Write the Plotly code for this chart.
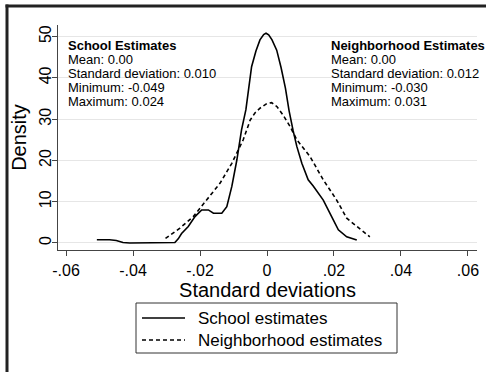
import plotly.graph_objects as go

# ---- data ----
school_x = [-0.0508, -0.047, -0.045, -0.043, -0.041, -0.035, -0.0285, -0.0275, -0.0265,
            -0.0255, -0.0235, -0.0215, -0.0195, -0.0175, -0.016, -0.0135, -0.012, -0.0105,
            -0.009, -0.0076, -0.0063, -0.0046, -0.0033, -0.0021, -0.001, -0.0003, 0.0005,
            0.0015, 0.0029, 0.0042, 0.0055, 0.0066, 0.0078, 0.0089, 0.0104, 0.0123, 0.0138,
            0.0168, 0.0193, 0.0213, 0.0238, 0.0268]
school_y = [0.8, 0.8, 0.6, 0.1, 0.0, 0.0, 0.0, 0.1, 1.0,
            2.3, 4.0, 6.4, 8.0, 8.0, 7.2, 7.2, 8.8, 13.7,
            20.1, 27.4, 32.3, 42.7, 46.5, 49.2, 50.5, 50.8, 50.4,
            49.2, 46.7, 42.5, 37.5, 32.0, 27.2, 23.4, 19.3, 15.3, 13.8,
            10.4, 6.4, 3.2, 1.5, 0.7]

neigh_x = [-0.0303, -0.026, -0.022, -0.018, -0.014, -0.0105, -0.0071, -0.005, -0.0036,
           -0.002, 0.0, 0.0014, 0.003, 0.0048, 0.0069, 0.0089, 0.0128, 0.0168, 0.0208,
           0.0238, 0.0268, 0.0307]
neigh_y = [1.1, 3.6, 6.4, 10.4, 14.5, 19.3, 25.0, 29.8, 31.5,
           32.7, 33.8, 34.0, 33.0, 31.0, 28.2, 25.0, 21.0, 15.3, 10.4,
           6.0, 4.0, 1.5]

x_ticks = [-0.06, -0.04, -0.02, 0, 0.02, 0.04, 0.06]
x_tick_labels = ["-.06", "-.04", "-.02", "0", ".02", ".04", ".06"]
y_ticks = [0, 10, 20, 30, 40, 50]

series_names = ["School estimates", "Neighborhood estimates"]
series_dash = ["solid", "4px,3px"]

school_stats = ["<b>School Estimates</b>", "Mean: 0.00", "Standard deviation: 0.010",
                "Minimum: -0.049", "Maximum: 0.024"]
neigh_stats = ["<b>Neighborhood Estimates</b>", "Mean: 0.00", "Standard deviation: 0.012",
               "Minimum: -0.030", "Maximum: 0.031"]

# ---- layout geometry (pixels) ----
W, H = 486, 372
L, R, T, B = 58, 9, 25, 122
PW, PH = W - L - R, H - T - B


def px_x(px):
    return (px - L) / PW


def px_y(py):
    return (H - B - py) / PH


FONT = "Liberation Sans, Arial, sans-serif"

fig = go.Figure()
fig.add_trace(go.Scatter(x=school_x, y=school_y, mode="lines", name=series_names[0],
                         line=dict(color="black", width=1.6, dash=series_dash[0])))
fig.add_trace(go.Scatter(x=neigh_x, y=neigh_y, mode="lines", name=series_names[1],
                         line=dict(color="black", width=1.6, dash=series_dash[1])))

annotations = []
rows_y = [45.5, 59.5, 73.5, 87.5, 101.5]
for txts, xpx in ((school_stats, 66), (neigh_stats, 329)):
    for t, ypx in zip(txts, rows_y):
        annotations.append(dict(text=t, xref="paper", yref="paper", x=px_x(xpx), y=px_y(ypx),
                                xanchor="left", yanchor="middle", showarrow=False,
                                font=dict(family=FONT, size=13, color="black")))

shapes = [
    # outer frame (top and left edges, as in the reference image)
    dict(type="rect", xref="paper", yref="paper", x0=px_x(5.5), x1=px_x(486),
         y0=px_y(7.5), y1=px_y(4.5), line=dict(width=0), fillcolor="#222", layer="above"),
    dict(type="rect", xref="paper", yref="paper", x0=px_x(5.5), x1=px_x(8.5),
         y0=px_y(372), y1=px_y(4.5), line=dict(width=0), fillcolor="#222"),
    # legend box
    dict(type="rect", xref="paper", yref="paper", x0=px_x(136), x1=px_x(397),
         y0=px_y(303), y1=px_y(353), line=dict(color="#333", width=1), fillcolor="white"),
]

# legend entries (drawn by hand for exact Stata-like spacing)
legend_rows = [318, 340]
for name, dash, ypx in zip(series_names, series_dash, legend_rows):
    shapes.append(dict(type="line", xref="paper", yref="paper", x0=px_x(142), x1=px_x(185),
                       y0=px_y(ypx), y1=px_y(ypx),
                       line=dict(color="black", width=1.6, dash=dash)))
    annotations.append(dict(text=name, xref="paper", yref="paper", x=px_x(196), y=px_y(ypx),
                            xanchor="left", yanchor="middle", showarrow=False,
                            font=dict(family=FONT, size=17, color="black")))

fig.update_layout(
    width=W, height=H,
    margin=dict(l=L, r=R, t=T, b=B, autoexpand=False),
    paper_bgcolor="white", plot_bgcolor="white",
    font=dict(family=FONT, color="black"),
    showlegend=False,
    annotations=annotations,
    shapes=shapes,
    xaxis=dict(range=[-0.0624, 0.0627], tickvals=x_ticks, ticktext=x_tick_labels,
               showgrid=False, zeroline=False, showline=True, linecolor="#444", linewidth=1,
               ticks="outside", ticklen=5, tickcolor="#444", ticklabelstandoff=1,
               tickfont=dict(family=FONT, size=16, color="black"),
               title=dict(text="Standard deviations", standoff=0,
                          font=dict(family=FONT, size=20, color="black"))),
    yaxis=dict(range=[-1.7, 52.8], tickvals=y_ticks, tickangle=-90,
               showgrid=True, gridcolor="#e6e6e6", gridwidth=1,
               zeroline=False, showline=True, linecolor="#444", linewidth=1,
               ticks="outside", ticklen=5, tickcolor="#444", ticklabelstandoff=-5,
               tickfont=dict(family=FONT, size=16, color="black"),
               title=dict(text="Density", standoff=4,
                          font=dict(family=FONT, size=20, color="black"))),
)

fig.write_html("out.html", config={"displayModeBar": False},
               post_script="document.body.style.margin='0px';")
